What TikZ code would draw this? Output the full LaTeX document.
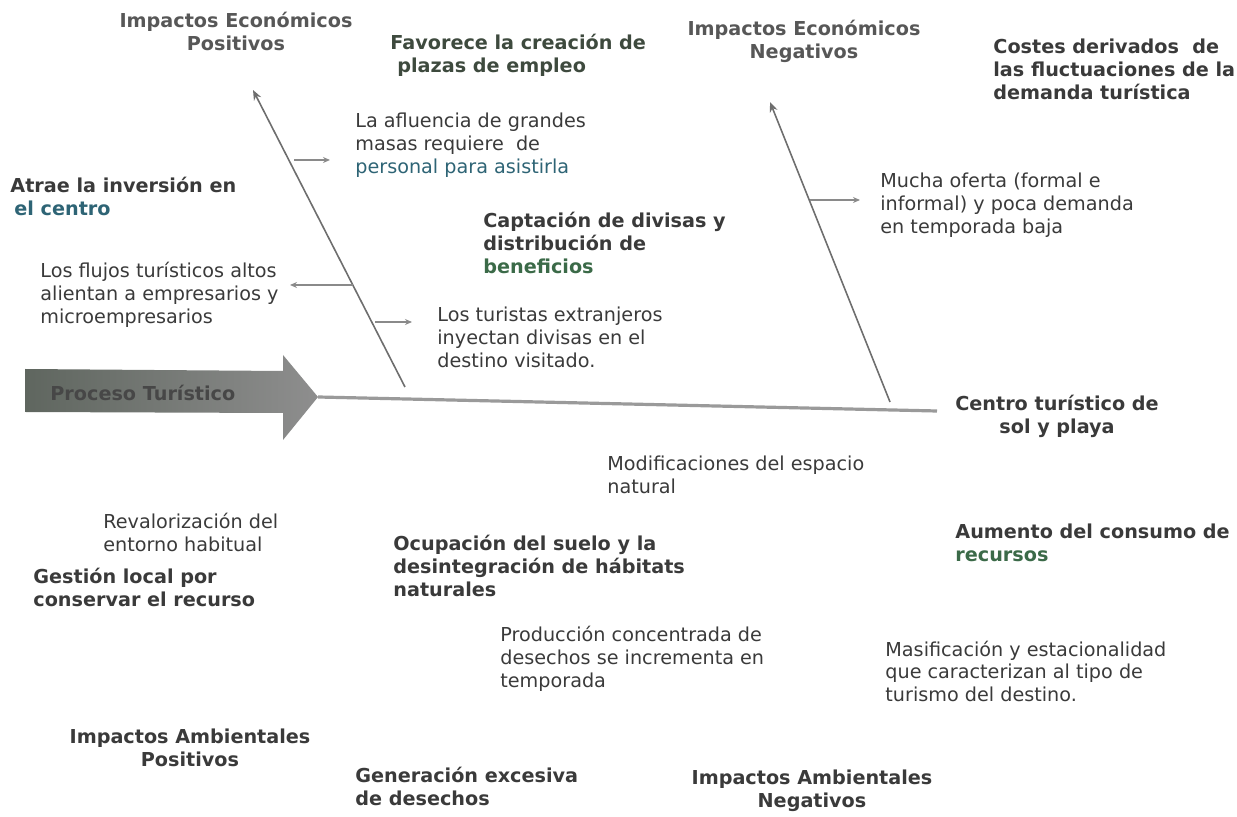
\documentclass[tikz,border=0pt]{standalone}
\usepackage{fontspec}
\setmainfont{DejaVu Sans}
\usetikzlibrary{arrows.meta}

\definecolor{inkgray}{HTML}{3A3A3A}
\definecolor{headgray}{HTML}{575757}
\definecolor{tealink}{HTML}{2E6475}
\definecolor{greenink}{HTML}{3B6A48}
\definecolor{oliveink}{HTML}{3E4A3E}
\definecolor{boneline}{HTML}{6E6E6E}
\definecolor{twiggray}{HTML}{8A8A8A}
\definecolor{spinegray}{HTML}{9A9A9A}
\definecolor{arrowdark}{HTML}{5F665F}
\definecolor{arrowlight}{HTML}{8E8E8E}

\begin{document}
\begin{tikzpicture}[x=0.5pt, y=-0.5pt,
    every node/.style={inner sep=0pt, text=inkgray, font=\fontsize{9.6}{11.5}\selectfont},
    txt/.style={anchor=base west, align=left},
    cause/.style={anchor=base west, align=left, font=\fontsize{9.6}{11.5}\selectfont\bfseries},
    hdr/.style={anchor=base, align=center, text=headgray, font=\fontsize{9.6}{11.5}\selectfont\bfseries},
    bone/.style={draw=boneline, line width=0.8pt, -{Stealth[length=5pt,width=4pt]}},
    twig/.style={draw=twiggray, line width=0.7pt, -{Stealth[length=3.5pt,width=3pt]}},
    spine/.style={draw=spinegray, line width=1.6pt}]
  \useasboundingbox (0,0) rectangle (1237,817);

  % flecha del proceso y espina
  \shade[left color=arrowdark, right color=arrowlight]
    (25,369) -- (283,371) -- (283,355) -- (318,397) -- (283,440) -- (283,413) -- (25,412) -- cycle;
  \node[cause, text=black!72] (proceso) at (50,401) {Proceso Turístico};
  \coordinate (tip) at (318,397);
  \coordinate (cola) at (937,411);
  \draw[spine] (tip) -- (cola);

  \coordinate (b1s) at (405,387);
  \coordinate (b1e) at (253,90);
  \coordinate (b2s) at (890,402);
  \coordinate (b2e) at (770,102);
  \draw[bone] (b1s) -- (b1e);
  \draw[bone] (b2s) -- (b2e);

  \coordinate (t1a) at (294,160);
  \coordinate (t1b) at (330,160);
  \coordinate (t2a) at (810,200);
  \coordinate (t2b) at (860,200);
  \coordinate (t3a) at (353,285);
  \coordinate (t3b) at (290,285);
  \coordinate (t4a) at (375,322);
  \coordinate (t4b) at (412,322);
  \draw[twig] (t1a) -- (t1b);
  \draw[twig] (t2a) -- (t2b);
  \draw[twig] (t3a) -- (t3b);
  \draw[twig] (t4a) -- (t4b);

  % impactos economicos
  \node[hdr] (econpos) at (236,51) {Impactos Económicos\\Positivos};
  \node[cause, text=oliveink] (empleo) at (390,73) {Favorece la creación de\\\hspace*{3.5pt}plazas de empleo};
  \node[hdr] (econneg) at (804,59) {Impactos Económicos\\Negativos};
  \node[cause] (costes) at (993,100) {Costes derivados\ \ de\\las fluctuaciones de la\\demanda turística};
  \node[txt] (afluencia) at (355,174) {La afluencia de grandes\\masas requiere\ \ de\\\textcolor{tealink}{personal para asistirla}};
  \node[cause] (atrae) at (10,216) {Atrae la inversión en\\\hspace*{2pt}\textcolor{tealink}{el centro}};
  \node[txt] (mucha) at (880,234) {Mucha oferta (formal e\\informal) y poca demanda\\en temporada baja};
  \node[cause] (divisas) at (483,274) {Captación de divisas y\\distribución de\\\textcolor{greenink}{beneficios}};
  \node[txt] (flujos) at (40,324) {Los flujos turísticos altos\\alientan a empresarios y\\microempresarios};
  \node[txt] (turistas) at (437,368) {Los turistas extranjeros\\inyectan divisas en el\\destino visitado.};
  \node[hdr, text=inkgray] (centro) at (1057,434) {Centro turístico de\\sol y playa};

  % impactos ambientales
  \node[txt] (modif) at (607,494) {Modificaciones del espacio\\natural};
  \node[txt] (reval) at (103,552) {Revalorización del\\entorno habitual};
  \node[cause] (aumento) at (955,562) {Aumento del consumo de\\\textcolor{greenink}{recursos}};
  \node[cause] (suelo) at (393,597) {Ocupación del suelo y la\\desintegración de hábitats\\naturales};
  \node[cause] (gestion) at (33,607) {Gestión local por\\conservar el recurso};
  \node[txt] (desechos) at (500,688) {Producción concentrada de\\desechos se incrementa en\\temporada};
  \node[txt] (masif) at (885,702) {Masificación y estacionalidad\\que caracterizan al tipo de\\turismo del destino.};
  \node[hdr, text=inkgray] (ambpos) at (190,766) {Impactos Ambientales\\Positivos};
  \node[cause] (generacion) at (355,805) {Generación excesiva\\de desechos};
  \node[hdr, text=inkgray] (ambneg) at (812,807) {Impactos Ambientales\\Negativos};
\end{tikzpicture}
\end{document}
